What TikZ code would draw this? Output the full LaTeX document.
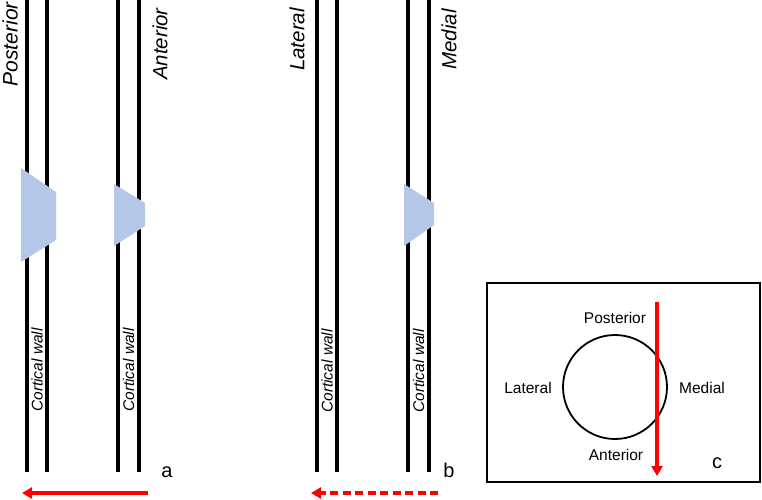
\documentclass[tikz,border=0pt]{standalone}
\usepackage{fontspec}
\setmainfont{Liberation Sans}
\usetikzlibrary{arrows.meta}
\definecolor{boneblue}{RGB}{180,199,231}
\definecolor{arrowred}{RGB}{255,0,0}
\tikzset{
  wall/.style={line width=3.4pt},
  side/.style={rotate=90, anchor=east, inner sep=0pt,
    font=\fontsize{20.5}{24}\selectfont\itshape},
  cort/.style={rotate=90, inner sep=0pt,
    font=\fontsize{15.5}{18}\selectfont\itshape},
  dirlbl/.style={anchor=base, inner sep=0pt, font=\fontsize{15.5}{18}\selectfont},
  tag/.style={anchor=base, inner sep=0pt, font=\fontsize{20}{24}\selectfont},
  screw/.style={fill=boneblue, draw=none},
  arw/.style={draw=arrowred, line width=4pt,
    -{Triangle[length=10pt,width=11pt]}}
}
\begin{document}
\begin{tikzpicture}[x=1pt, y=-1pt]
    \useasboundingbox (0,0) rectangle (762,499);

    % Cortical walls of panels a and b.
    \foreach \wx in {27,47,118,139,317,337,408,429}
      \draw[wall] (\wx,0) -- (\wx,472);

    % Screw tips through the walls.
    \fill[screw] (21,168) -- (56,192) -- (56,240) -- (21,262) -- cycle;
    \fill[screw] (114,184) -- (145,203) -- (145,226) -- (114,246) -- cycle;
    \fill[screw] (404,184) -- (434,203) -- (434,225) -- (404,246) -- cycle;

    % Side labels.
    \node[side, font=\fontsize{21}{25}\selectfont\itshape] (postA) at (10,2) {Posterior};
    \node[side] (antA) at (160,8) {Anterior};
    \node[side] (latB) at (297,8) {Lateral};
    \node[side] (medB) at (449,9) {Medial};

    % Wall labels.
    \node[cort] (cwA1) at (37,370) {Cortical wall};
    \node[cort] (cwA2) at (128.5,370) {Cortical wall};
    \node[cort] (cwB1) at (327,371) {Cortical wall};
    \node[cort] (cwB2) at (418.5,371) {Cortical wall};

    % Panel tags.
    \node[tag] (tagA) at (167,477) {a};
    \node[tag] (tagB) at (449,477) {b};

    % Drill directions.
    \coordinate (aStart) at (148,493);
    \coordinate (aEnd) at (22,493);
    \draw[arw] (aStart) -- (aEnd);
    \coordinate (bStart) at (438,493);
    \coordinate (bEnd) at (311,493);
    \draw[arw, dash pattern=on 8pt off 4.5pt] (bStart) -- (bEnd);

    % Panel c: cross section.
    \draw[line width=1.6pt] (487,283) rectangle (760,482);
    \node[draw, circle, line width=1.8pt, minimum size=104pt, inner sep=0pt]
      (bone) at (615,387) {};
    \node[dirlbl] (postC) at (615,323) {Posterior};
    \node[dirlbl] (latC) at (528,393) {Lateral};
    \node[dirlbl] (medC) at (702,393) {Medial};
    \node[dirlbl] (antC) at (616,460) {Anterior};
    \node[tag] (tagC) at (717,468) {c};

    \coordinate (cStart) at (657,302);
    \coordinate (cEnd) at (657,476);
    \draw[arw, line width=3.2pt] (cStart) -- (cEnd);
  \end{tikzpicture}
\end{document}
